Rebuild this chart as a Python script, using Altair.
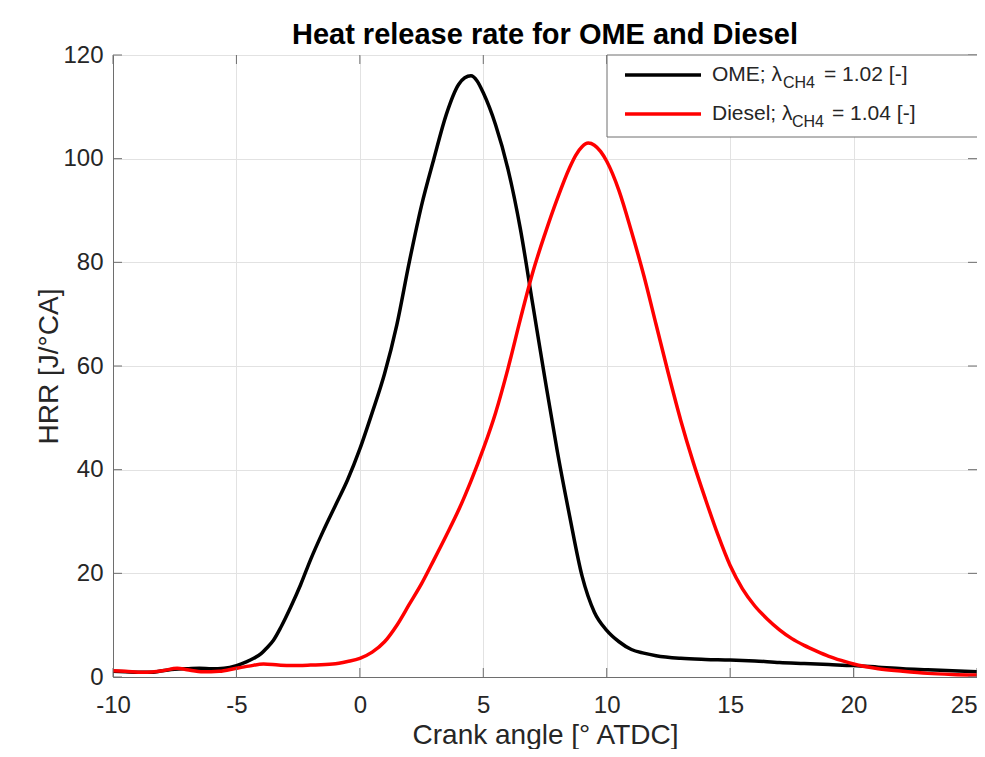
import altair as alt
import pandas as pd

# ---- data ----
ome_x = [-10, -9.5, -9, -8.5, -8, -7.5, -7, -6.5, -6, -5.5, -5, -4.6, -4.3, -4, -3.77, -3.5,
         -3.2, -2.8, -2.4, -2, -1.5, -1, -0.5, 0, 0.5, 1, 1.5, 2, 2.5, 3, 3.5, 4, 4.25,
         4.5, 4.75, 5, 5.5, 6, 6.5, 7, 7.5, 8, 8.5, 9, 9.5, 10, 10.5, 11, 11.5, 12, 13, 14,
         15, 16, 17, 18, 19, 20, 21, 22, 23, 24, 25]
ome_y = [1.1, 1.0, 0.9, 0.9, 1.2, 1.5, 1.6, 1.7, 1.6, 1.7, 2.2, 2.9, 3.6, 4.5, 5.6, 7.1,
         9.6, 13.5, 17.8, 22.6, 28, 33, 38, 44, 51, 58.5, 68, 80, 91, 100, 108.5, 114.3, 115.6,
         116, 115, 112.7, 106.5, 98, 86.5, 72, 57.5, 43.5, 31, 19.5, 12.5, 9, 6.8, 5.3, 4.6, 4.1,
         3.6, 3.4, 3.3, 3.1, 2.8, 2.6, 2.4, 2.2, 1.9, 1.6, 1.4, 1.2, 1.0]

diesel_x = [-10, -9.5, -8.8, -8, -7.4, -7, -6.35, -5.7, -5, -4.5, -3.9, -3.3, -2.8, -2, -1.1,
            -0.5, 0, 0.5, 1, 1.5, 2, 2.5, 3, 3.5, 4, 4.5, 5, 5.5, 6, 6.5, 7, 7.5, 8, 8.5, 8.75,
            9, 9.25, 9.5, 9.75, 10, 10.5, 11, 11.5, 12, 12.5, 13, 13.5, 14, 14.5, 15, 15.5, 16,
            16.5, 17, 17.5, 18, 18.5, 19, 19.5, 20, 21, 22, 23, 24, 25]
diesel_y = [1.2, 1.1, 0.9, 1.2, 1.7, 1.4, 1.0, 1.1, 1.7, 2.1, 2.5, 2.3, 2.2, 2.3, 2.5,
            3.0, 3.6, 4.8, 6.8, 10, 14, 18, 22.6, 27.3, 32.2, 37.8, 44, 51, 59.5, 69, 78, 85.5,
            92.3, 98.3, 100.7, 102.3, 103, 102.6, 101.4, 99.5, 93.8, 86, 77.5, 68, 58.5, 49.5,
            41.5, 34.3, 27.5, 21.5, 17, 13.7, 11.2, 9.1, 7.4, 6.1, 5, 4, 3.2, 2.5, 1.6, 1.1, 0.7,
            0.5, 0.4]

x_ticks = [-10, -5, 0, 5, 10, 15, 20, 25]
y_ticks = [0, 20, 40, 60, 80, 100, 120]
series_names = ["OME", "Diesel"]
series_colors = ["#000000", "#ff0000"]
lambda_values = ["1.02", "1.04"]
title_text = "Heat release rate for OME and Diesel"
x_title = "Crank angle [° ATDC]"
y_title = "HRR [J/°CA]"

# ---- styling ----
W, H = 864, 622
FONT = "Liberation Sans"
TXT = "#262626"
EDGE = "#6e6e6e"
GRID = "#e2e2e2"

xscale = alt.Scale(domain=[-10, 25], nice=False, zero=False)
yscale = alt.Scale(domain=[0, 120], nice=False, zero=False)

x_axis = alt.Axis(values=x_ticks, title=x_title, labelExpr="'' + datum.value", grid=True,
                  gridColor=GRID, ticks=False, tickSize=0, labelFontSize=24, labelPadding=16,
                  labelColor=TXT, labelFont=FONT,
                  labelAlign=alt.ExprRef(f"datum.value >= {x_ticks[-1]} ? 'right' : 'center'"),
                  titleFont=FONT, titleFontSize=28, titleFontWeight="normal",
                  titleColor=TXT, titleX=W / 2, titleY=66, titleBaseline="alphabetic",
                  titleAlign="center", domainColor=EDGE, labelFlush=False)
y_axis = alt.Axis(values=y_ticks, title=y_title, labelExpr="'' + datum.value", grid=True,
                  gridColor=GRID, ticks=False, tickSize=0, labelFontSize=24, labelPadding=10,
                  labelColor=TXT, labelFont=FONT, titleFont=FONT, titleFontSize=28,
                  titleFontWeight="normal", titleColor=TXT, titleX=-56, titleY=H / 2,
                  titleAngle=270, titleBaseline="alphabetic", titleAlign="center",
                  domainColor=EDGE, labelFlush=False)

layers = []
xs = [ome_x, diesel_x]
ys = [ome_y, diesel_y]
for i, name in enumerate(series_names):
    d = pd.DataFrame({"angle": xs[i], "hrr": ys[i], "fuel": name})
    layers.append(
        alt.Chart(d).mark_line(strokeWidth=3.5, clip=True, interpolate="monotone",
                               color=series_colors[i]).encode(
            x=alt.X("angle:Q", scale=xscale, axis=x_axis),
            y=alt.Y("hrr:Q", scale=yscale, axis=y_axis),
        )
    )

# inward ticks (MATLAB style), on all four sides
xt = pd.DataFrame({"angle": x_ticks})
yt = pd.DataFrame({"hrr": y_ticks})
TL = 9
for (y0, y1) in [(H, H - TL), (0, TL)]:
    layers.append(alt.Chart(xt).mark_rule(color=EDGE, strokeWidth=1).encode(
        x=alt.X("angle:Q", scale=xscale, axis=x_axis), y=alt.value(y0), y2=alt.value(y1)))
for (x0, x1) in [(0, TL), (W, W - TL)]:
    layers.append(alt.Chart(yt).mark_rule(color=EDGE, strokeWidth=1).encode(
        y=alt.Y("hrr:Q", scale=yscale, axis=y_axis), x=alt.value(x0), x2=alt.value(x1)))

# legend box (drawn as marks, to reproduce the subscript text)
one = pd.DataFrame({"a": [0]})
LX0, LX1, LY0, LY1 = 494, 865, 0, 82
layers.append(alt.Chart(one).mark_rect(fill="white", stroke=EDGE, strokeWidth=1).encode(
    x=alt.value(LX0), x2=alt.value(LX1), y=alt.value(LY0), y2=alt.value(LY1)))

row_y = [20, 59]
sub_x = [670, 679]
eq_x = [711, 719]
for i, name in enumerate(series_names):
    layers.append(alt.Chart(one).mark_rule(color=series_colors[i], strokeWidth=3.5).encode(
        x=alt.value(512), x2=alt.value(588), y=alt.value(row_y[i])))
    layers.append(alt.Chart(one).mark_text(
        text=f"{name}; λ", font=FONT, fontSize=21, color=TXT, align="left",
        baseline="alphabetic").encode(x=alt.value(599), y=alt.value(row_y[i] + 6)))
    layers.append(alt.Chart(one).mark_text(
        text="CH4", font=FONT, fontSize=16, color=TXT, align="left",
        baseline="alphabetic").encode(x=alt.value(sub_x[i]), y=alt.value(row_y[i] + 13)))
    layers.append(alt.Chart(one).mark_text(
        text=f"= {lambda_values[i]} [-]", font=FONT, fontSize=21, color=TXT, align="left",
        baseline="alphabetic").encode(x=alt.value(eq_x[i]), y=alt.value(row_y[i] + 6)))

chart = alt.layer(*layers).properties(
    width=W, height=H,
    title=alt.TitleParams(title_text, font=FONT, fontSize=29, fontWeight="bold", color="black",
                          anchor="middle", frame="group", offset=-7),
    autosize=alt.AutoSizeParams(type="none"),
    padding={"left": 105, "top": 47, "right": 0, "bottom": 72},
).configure_view(stroke=EDGE, strokeWidth=1).configure(background="white")

chart.save("out.html", embed_options={"renderer": "svg", "actions": False})
